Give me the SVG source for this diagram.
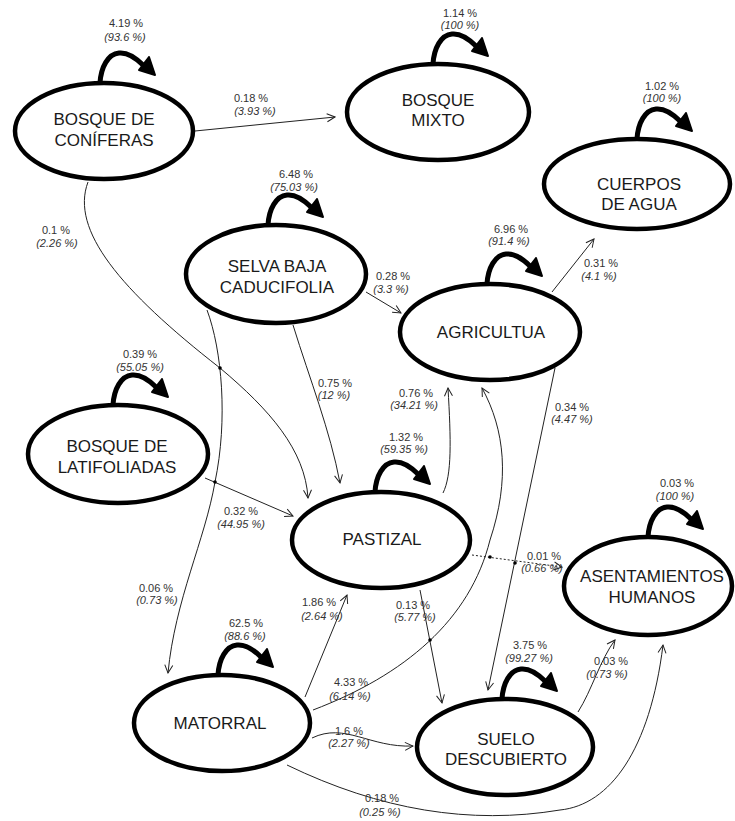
<svg xmlns="http://www.w3.org/2000/svg" xmlns:xlink="http://www.w3.org/1999/xlink" width="735" height="821" viewBox="0 0 735 821">
<style>
.node ellipse{fill:#fff;stroke:#000;stroke-width:4.5}
.nt{font-family:"Liberation Sans",Arial,sans-serif;font-size:17px;fill:#1a1a1a;text-anchor:middle}
.el{font-family:"Liberation Sans",Arial,sans-serif;font-size:11px;fill:#333;text-anchor:middle}
.el .i{font-style:italic}
.conn path{fill:none;stroke:#222;stroke-width:1;marker-end:url(#arr)}
.conn .dot{stroke-dasharray:2 2}
.xd{fill:#000}
</style>
<defs>
<marker id="arr" viewBox="0 0 10 10" refX="9" refY="5" markerWidth="10" markerHeight="10" markerUnits="userSpaceOnUse" orient="auto">
<path d="M1,1 L9,5 L1,9" fill="none" stroke="#222" stroke-width="1"/>
</marker>
<g id="loop">
<path d="M0,0 C1,-16 8,-29 19,-30 C28,-31 36,-25 43,-18" fill="none" stroke="#000" stroke-width="5"/>
<polygon points="49,-26 39,-13 55,-8" fill="#000" stroke="#000" stroke-width="2" stroke-linejoin="round"/>
</g>
</defs>
<rect width="735" height="821" fill="#fff"/>

<g id="connectors" class="conn">
<path d="M195,131 L335,117"/>
<path d="M88,182 C70,230 120,290 220,368 C270,410 305,450 308,498"/>
<path d="M207,310 C222,350 228,420 215,482 C205,540 175,600 168,673"/>
<path d="M293,325 C310,380 330,430 340,483"/>
<path d="M366,292 L401,313"/>
<path d="M552,292 L594,239"/>
<path d="M555,368 L488,690"/>
<path d="M443,493 C452,475 451,440 448,388"/>
<path d="M313,710 C405,675 470,620 490,540 C510,480 505,430 482,388"/>
<path d="M305,697 L347,595"/>
<path d="M312,738 C345,722 370,748 413,746"/>
<path d="M287,765 C380,810 470,825 560,810 C610,805 650,750 663,645"/>
<path d="M420,590 L442,703"/>
<path class="dot" d="M472,555 L562,567"/>
<path d="M578,712 C592,690 600,660 615,640"/>
<path d="M205,478 L293,516"/>
<circle class="xd" cx="220" cy="368" r="1.8"/>
<circle class="xd" cx="215" cy="482" r="1.8"/>
<circle class="xd" cx="490" cy="557" r="1.8"/>
<circle class="xd" cx="515" cy="563" r="1.8"/>
<circle class="xd" cx="430" cy="640" r="1.8"/>
</g>

<g id="edge-labels" class="el">
<text x="251" y="102">0.18 %</text><text class="i" x="255" y="115">(3.93 %)</text>
<text x="56" y="234">0.1 %</text><text class="i" x="57" y="247">(2.26 %)</text>
<text x="335" y="387">0.75 %</text><text class="i" x="334" y="399">(12 %)</text>
<text x="393" y="280">0.28 %</text><text class="i" x="391" y="293">(3.3 %)</text>
<text x="601" y="267">0.31 %</text><text class="i" x="599" y="280">(4.1 %)</text>
<text x="572" y="411">0.34 %</text><text class="i" x="572" y="423">(4.47 %)</text>
<text x="416" y="397">0.76 %</text><text class="i" x="414" y="409">(34.21 %)</text>
<text x="241" y="515">0.32 %</text><text class="i" x="241" y="528">(44.95 %)</text>
<text x="156" y="592">0.06 %</text><text class="i" x="157" y="604">(0.73 %)</text>
<text x="319" y="606">1.86 %</text><text class="i" x="322" y="620">(2.64 %)</text>
<text x="351" y="686">4.33 %</text><text class="i" x="350" y="700">(6.14 %)</text>
<text x="349" y="735">1.6 %</text><text class="i" x="349" y="747">(2.27 %)</text>
<text x="382" y="802">0.18 %</text><text class="i" x="380" y="816">(0.25 %)</text>
<text x="413" y="609">0.13 %</text><text class="i" x="415" y="621">(5.77 %)</text>
<text x="544" y="560">0.01 %</text><text class="i" x="542" y="572">(0.66 %)</text>
<text x="611" y="665">0.03 %</text><text class="i" x="607" y="678">(0.73 %)</text>
</g>

<g id="n-coniferas" class="node">
<ellipse cx="104" cy="131" rx="89" ry="48"/>
<use xlink:href="#loop" x="100" y="83"/>
<text class="nt" x="104" y="125">BOSQUE DE</text><text class="nt" x="104" y="146">CONÍFERAS</text>
<text class="el" x="126" y="27">4.19 %</text><text class="el" font-style="italic" x="125" y="41">(93.6 %)</text>
</g>
<g id="n-mixto" class="node">
<ellipse cx="438" cy="112" rx="91" ry="48"/>
<use xlink:href="#loop" x="433" y="64"/>
<text class="nt" x="438" y="106">BOSQUE</text><text class="nt" x="438" y="126">MIXTO</text>
<text class="el" x="460" y="17">1.14 %</text><text class="el" font-style="italic" x="460" y="29">(100 %)</text>
</g>
<g id="n-cuerpos" class="node">
<ellipse cx="637" cy="184" rx="93" ry="45"/>
<use xlink:href="#loop" x="637" y="139"/>
<text class="nt" x="639" y="190">CUERPOS</text><text class="nt" x="639" y="210">DE AGUA</text>
<text class="el" x="662" y="90">1.02 %</text><text class="el" font-style="italic" x="662" y="102">(100 %)</text>
</g>
<g id="n-selva" class="node">
<ellipse cx="276" cy="274" rx="90" ry="49"/>
<use xlink:href="#loop" x="268" y="225"/>
<text class="nt" x="277" y="272">SELVA BAJA</text><text class="nt" x="277" y="293">CADUCIFOLIA</text>
<text class="el" x="296" y="178">6.48 %</text><text class="el" font-style="italic" x="294" y="191">(75.03 %)</text>
</g>
<g id="n-agricultua" class="node">
<ellipse cx="490" cy="332" rx="90" ry="48"/>
<use xlink:href="#loop" x="487" y="284"/>
<text class="nt" x="491" y="338">AGRICULTUA</text>
<text class="el" x="511" y="233">6.96 %</text><text class="el" font-style="italic" x="509" y="245">(91.4 %)</text>
</g>
<g id="n-latifoliadas" class="node">
<ellipse cx="118" cy="454" rx="90" ry="49"/>
<use xlink:href="#loop" x="113" y="405"/>
<text class="nt" x="117" y="452">BOSQUE DE</text><text class="nt" x="117" y="473">LATIFOLIADAS</text>
<text class="el" x="140" y="358">0.39 %</text><text class="el" font-style="italic" x="140" y="371">(55.05 %)</text>
</g>
<g id="n-pastizal" class="node">
<ellipse cx="381" cy="540" rx="89" ry="48"/>
<use xlink:href="#loop" x="375" y="492"/>
<text class="nt" x="382" y="545">PASTIZAL</text>
<text class="el" x="406" y="441">1.32 %</text><text class="el" font-style="italic" x="404" y="453">(59.35 %)</text>
</g>
<g id="n-asentamientos" class="node">
<ellipse cx="648" cy="586" rx="84" ry="49"/>
<use xlink:href="#loop" x="648" y="537"/>
<text class="nt" x="652" y="582">ASENTAMIENTOS</text><text class="nt" x="652" y="603">HUMANOS</text>
<text class="el" x="677" y="487">0.03 %</text><text class="el" font-style="italic" x="675" y="500">(100 %)</text>
</g>
<g id="n-matorral" class="node">
<ellipse cx="222" cy="723" rx="88" ry="48"/>
<use xlink:href="#loop" x="218" y="675"/>
<text class="nt" x="220" y="729">MATORRAL</text>
<text class="el" x="246" y="627">62.5 %</text><text class="el" font-style="italic" x="245" y="640">(88.6 %)</text>
</g>
<g id="n-suelo" class="node">
<ellipse cx="505" cy="747" rx="88" ry="48"/>
<use xlink:href="#loop" x="502" y="699"/>
<text class="nt" x="506" y="745">SUELO</text><text class="nt" x="506" y="765">DESCUBIERTO</text>
<text class="el" x="530" y="649">3.75 %</text><text class="el" font-style="italic" x="529" y="662">(99.27 %)</text>
</g>
</svg>
